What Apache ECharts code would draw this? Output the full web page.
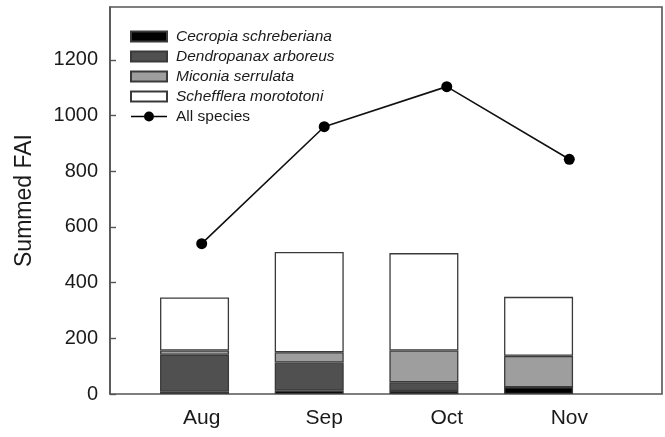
<!DOCTYPE html>
<html>
<head>
<meta charset="utf-8">
<script src="https://cdn.jsdelivr.net/npm/echarts@6/dist/echarts.min.js"></script>
<style>
  html, body { margin: 0; padding: 0; background: #fff; }
  #chart { width: 665px; height: 437px; }
</style>
</head>
<body>
<div id="chart"></div>
<script>
// Months sampled
const months = ['Aug', 'Sep', 'Oct', 'Nov'];

// Fruit availability index per species (stacked bars)
const cecropia = [8, 12, 11, 24];
const dendropanax = [133, 101, 31, 0];
const miconia = [15, 37, 114, 113];
const schefflera = [191, 360, 350, 212];

// Summed FAI over all species (line)
const allSpecies = [540, 960, 1104, 843];

// Y axis ticks
const yMin = 0;
const yMax = 1390;
const yStep = 200;

const FONT = '"Liberation Sans", Arial, sans-serif';
const TEXT = '#1a1a1a';
const FRAME = '#555';
const EDGE = '#3a3a3a';

// legend glyph for the summed line: a line with a filled dot in the middle
const LINE_DOT_ICON = 'path://M0 4.3H13V5.7H0Z M23 4.3H36V5.7H23Z M18 0A5 5 0 1 1 17.99 0Z';

const chart = echarts.init(document.getElementById('chart'), null, { renderer: 'canvas' });

const plotTop = 7, plotBottom = 43;

const hiddenY = (idx) => ({ type: 'value', gridIndex: idx, min: yMin, max: yMax, show: false });

const barSeries = (name, data, color) => ({
  name: name,
  type: 'bar',
  xAxisIndex: 2,
  yAxisIndex: 2,
  stack: 'fai',
  data: data,
  barWidth: 69,
  itemStyle: { color: color, borderColor: EDGE, borderWidth: 1.3 }
});

const italicItem = (name) => ({ name: name, icon: 'rect', textStyle: { fontStyle: 'italic' } });

chart.setOption({
  animation: false,
  backgroundColor: '#fff',
  textStyle: { fontFamily: FONT },
  grid: [
    // plot frame and value axis
    { left: 110, right: 3, top: plotTop, bottom: plotBottom, show: true, borderColor: FRAME, borderWidth: 1.6, backgroundColor: 'transparent' },
    // month axis and summed line
    { left: 201.7, right: 95.7, top: plotTop, bottom: plotBottom },
    // stacked bars
    { left: 137.2, width: 458.7, top: plotTop, bottom: plotBottom }
  ],
  legend: {
    orient: 'vertical',
    left: 130,
    top: 28.5,
    padding: 0,
    itemWidth: 36,
    itemHeight: 10,
    itemGap: 4,
    textStyle: { fontFamily: FONT, fontSize: 15.5, lineHeight: 15, color: TEXT, padding: [0, 0, 0, 4] },
    data: [
      italicItem('Cecropia schreberiana'),
      italicItem('Dendropanax arboreus'),
      italicItem('Miconia serrulata'),
      italicItem('Schefflera morototoni'),
      { name: 'All species', icon: LINE_DOT_ICON, itemStyle: { color: '#000', borderWidth: 0 } }
    ]
  },
  xAxis: [
    { type: 'value', gridIndex: 0, show: false, min: 0, max: 1 },
    {
      type: 'category', gridIndex: 1, data: months, boundaryGap: false,
      axisLine: { show: false }, axisTick: { show: false }, splitLine: { show: false },
      axisLabel: { fontFamily: FONT, fontSize: 21, color: TEXT, margin: 14 }
    },
    { type: 'category', gridIndex: 2, data: months, show: false }
  ],
  yAxis: [
    {
      type: 'value', gridIndex: 0, min: yMin, max: yMax, interval: yStep,
      name: 'Summed FAI', nameLocation: 'middle', nameGap: 74,
      nameTextStyle: { fontFamily: FONT, fontSize: 23, color: TEXT },
      axisLine: { show: true, lineStyle: { color: FRAME, width: 1.6 } },
      axisTick: { show: true, inside: true, length: 6, lineStyle: { color: FRAME, width: 1.4 } },
      axisLabel: {
        fontFamily: FONT, fontSize: 20, color: TEXT, margin: 12, showMaxLabel: false,
        formatter: (v) => String(v)
      },
      splitLine: { show: false }
    },
    hiddenY(1),
    hiddenY(2)
  ],
  series: [
    barSeries('Cecropia schreberiana', cecropia, '#000000'),
    barSeries('Dendropanax arboreus', dendropanax, '#505050'),
    barSeries('Miconia serrulata', miconia, '#9e9e9e'),
    barSeries('Schefflera morototoni', schefflera, '#ffffff'),
    {
      name: 'All species',
      type: 'line',
      xAxisIndex: 1,
      yAxisIndex: 1,
      data: allSpecies,
      symbol: 'circle',
      symbolSize: 11,
      itemStyle: { color: '#000' },
      lineStyle: { color: '#111', width: 1.6 }
    }
  ]
});
</script>
</body>
</html>
